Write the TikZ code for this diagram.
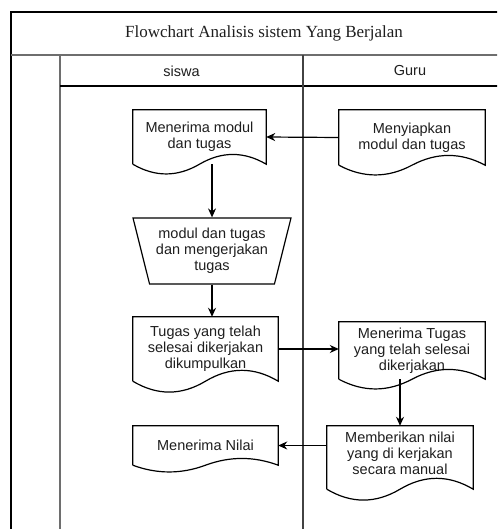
\documentclass[tikz,border=0pt]{standalone}
\usepackage{fontspec}
\setmainfont{Liberation Serif}
\setsansfont{Liberation Sans}
\usepackage{tikz}
\usetikzlibrary{calc}
\usetikzlibrary{arrows.meta,positioning,shapes.geometric}
\definecolor{lanegray}{RGB}{110,110,110}
\definecolor{textgray}{RGB}{30,30,30}

% document outline round a node: #1 node, #2 wave height, #3 sides below the node
\newcommand{\docoutline}[3]{%
  \draw[docline] ($(#1.south west)+(0,#3)$) -- (#1.north west) -- (#1.north east) -- ($(#1.south east)+(0,#3)$)
    .. controls ($(#1.south east)!1/6!(#1.south west)+(0,#3-#2)$) and ($(#1.south east)!1/3!(#1.south west)+(0,#3-#2)$) .. ($(#1.south east)!1/2!(#1.south west)+(0,#3)$)
    .. controls ($(#1.south east)!2/3!(#1.south west)+(0,#3+#2)$) and ($(#1.south east)!5/6!(#1.south west)+(0,#3+#2)$) .. ($(#1.south west)+(0,#3)$);}

\begin{document}
\begin{tikzpicture}[x=1pt,y=-1pt,>={Stealth[length=9pt,width=8pt]}, every node/.style={font=\sffamily\fontsize{14.5}{16}\selectfont,text=textgray,align=center}]
    \tikzset{docbox/.style={inner sep=0pt}}
    \tikzset{docline/.style={draw=black,line width=1.2pt}}
    \tikzset{manual/.style={trapezium,draw,line width=1.2pt,trapezium stretches body,shape border rotate=180,trapezium left angle=70,trapezium right angle=70,minimum width=158pt,minimum height=66pt,inner sep=0pt}}
    \tikzset{flow/.style={->,line width=1.2pt}}
    \tikzset{lane/.style={draw=lanegray,line width=1.6pt}}

    \useasboundingbox (0,0) rectangle (497,529);
    \clip (0,0) rectangle (497,529);

    % Pool
    \draw[line width=1.3pt] (11,12) rectangle (517,545);
    \draw[lane] (11,55) -- (517,55);
    \draw[lane] (60,55) -- (60,545);
    \draw[line width=1.3pt] (60,86) -- (517,86);
    \draw[lane,draw=lanegray!60!black] (303,55) -- (303,545);
    \node[font=\rmfamily\fontsize{17}{20}\selectfont] (title) at (264,33) {Flowchart Analisis sistem Yang Berjalan};
    \node (lsiswa) at (181.5,71) {siswa};
    \node (lguru) at (410,71) {Guru};

    % siswa
    \node[docbox,minimum width=133pt,minimum height=54pt] (terima) at (199.5,137) {Menerima modul\\dan tugas};
    \node[manual] (kerja) at (212,251) {modul dan tugas\\dan mengerjakan\\tugas};
    \node[docbox,minimum width=145pt,minimum height=64pt] (kumpul) at (205.5,349) {Tugas yang telah\\selesai dikerjakan\\dikumpulkan};
    \node[docbox,minimum width=145pt,minimum height=39pt] (nilai) at (205.5,445.5) {Menerima Nilai};

    % Guru
    \node[docbox,minimum width=146pt,minimum height=55pt] (siapkan) at (412,137.5) {Menyiapkan\\modul dan tugas};
    \node[docbox,minimum width=146pt,minimum height=57pt] (terimatugas) at (412,350.5) {Menerima Tugas\\yang telah selesai\\dikerjakan};
    \node[docbox,minimum width=146pt,minimum height=55pt] (beri) at (400,453.5) {Memberikan nilai\\yang di kerjakan\\secara manual};

    \docoutline{terima}{13}{0}
    \docoutline{kumpul}{14.5}{0}
    \docoutline{nilai}{9}{0}
    \docoutline{siapkan}{13}{0}
    \docoutline{terimatugas}{13}{0}
    \docoutline{beri}{14.5}{8}

    % flow
    \draw[flow] (siapkan.west) -- (terima.east);
    \draw[flow] (terima.south -| kerja.north) -- (kerja.north);
    \draw[flow] (kerja.south) -- (kerja.south |- kumpul.north);
    \draw[flow] (kumpul.east) -- (kumpul.east -| terimatugas.west);
    \draw[flow] (beri.north |- terimatugas.south) -- (beri.north);
    \draw[flow] (nilai.east -| beri.west) -- (nilai.east);
\end{tikzpicture}
\end{document}
